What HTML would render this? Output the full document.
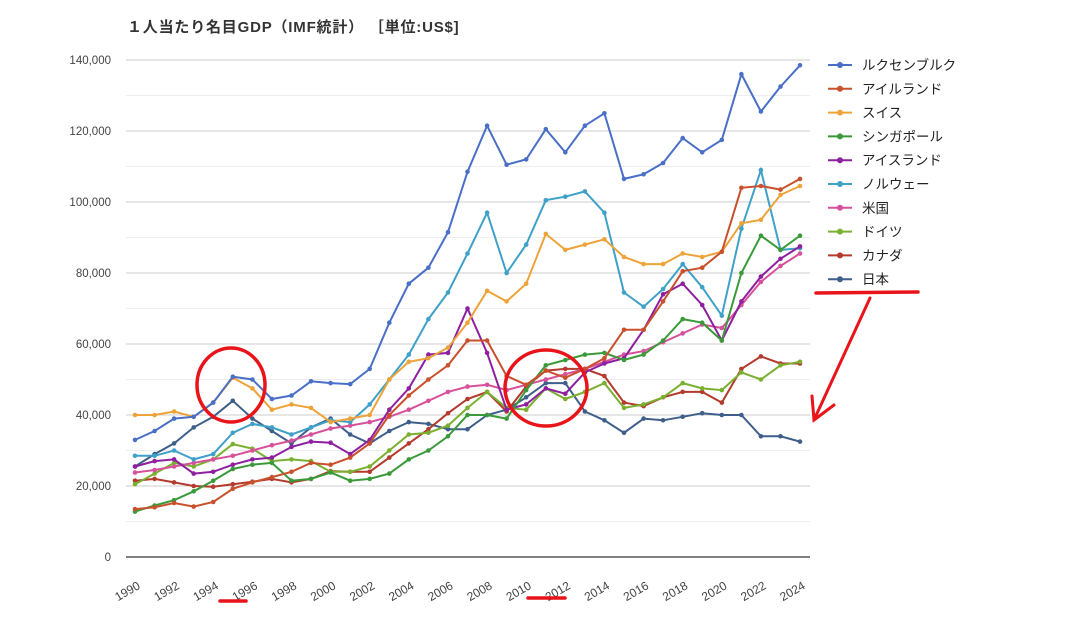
<!DOCTYPE html>
<html><head><meta charset="utf-8"><style>
body{margin:0;background:#fff;width:1079px;height:624px;overflow:hidden}
svg{font-family:"Liberation Sans","Noto Sans CJK JP",sans-serif}
</style></head><body>
<svg id="s" width="1079" height="624" xmlns="http://www.w3.org/2000/svg"></svg>
<script>
const S=document.getElementById('s');let h='';
const X=y=>135+(y-1990)*19.56, Y=v=>557-v*3.55;
h+='<text x="127" y="32" font-size="15" font-weight="bold" fill="#333" letter-spacing="0.8">１人当たり名目GDP（IMF統計） ［単位:US$]</text>';
for(let v=0;v<=140;v+=10){const y=Y(v);h+=`<line x1="126" x2="810" y1="${y}" y2="${y}" stroke="${v==0?'#555':(v%20?'#eee':'#ccc')}" stroke-width="${v==0?1.5:1}"/>`;
if(v%20==0)h+=`<text x="111" y="${y+4}" font-size="11.5" fill="#444" text-anchor="end">${v==0?'0':v+',000'}</text>`;}
for(let yr=1990;yr<=2024;yr+=2)h+=`<text transform="translate(${X(yr)+6},${588}) rotate(-30)" font-size="12" fill="#444" text-anchor="end">${yr}</text>`;
const D=[
["ルクセンブルク","#4a6fc6",[33,35.5,39,39.5,43.5,50.8,50,44.5,45.5,49.5,49,48.7,53,66,77,81.5,91.5,108.5,121.5,110.5,112,120.5,114,121.5,125,106.5,107.8,111,118,114,117.5,136,125.5,132.5,138.5]],
["アイルランド","#c8502c",[13.5,14,15.2,14.2,15.5,19.2,21,22.5,24,26.5,26,28,32,40,45.5,50,54,61,61,51,48.5,52.5,50.5,53,56,64,64,72,80.5,81.5,86,104,104.5,103.5,106.5]],
["スイス","#eea33a",[40,40,41,39.5,43.5,50.5,47.5,41.5,43,42,38,39,40,50,55,56,59,66,75,72,77,91,86.5,88,89.5,84.5,82.5,82.5,85.5,84.5,86,94,95,102,104.5]],
["シンガポール","#3a9a3a",[12.8,14.5,16,18.5,21.5,24.8,26,26.5,21.5,22,23.8,21.5,22,23.5,27.5,30,34,40,40,39,47,54,55.5,57,57.5,55.5,57,61,67,66,61,80,90.5,86.5,90.5]],
["アイスランド","#8e1fa0",[25.5,27,27.5,23.5,24,26,27.5,28,31,32.5,32.2,29,33,41.5,47.5,57,57.5,70,57.5,41.5,43,47.5,46,52,54.5,56,64,74,77,71,61,72,79,84,87.5]],
["ノルウェー","#3fa1c8",[28.5,28.5,30,27.5,29,35,37.5,36.5,34.5,36.5,38.5,38,43,50,57,67,74.5,85.5,97,80,88,100.5,101.5,103,97,74.5,70.5,75.5,82.5,76,68,92.5,109,86.5,87]],
["米国","#d7509a",[23.8,24.5,25.5,26.5,27.5,28.5,30,31.5,32.8,34.5,36.2,37,38,39.5,41.5,44,46.5,48,48.5,47,48.5,50,51.5,53,55,57,58,60.5,63,65.5,64.5,71,77.5,82,85.5]],
["ドイツ","#7ab030",[20.5,23.5,26.5,25.5,27.5,31.8,30.5,27,27.5,27,24,24,25.5,30,34.5,35,37,42,46.5,42,41.5,47.5,44.5,46.5,49,42,43,45,49,47.5,47,52,50,54,55]],
["カナダ","#b33a2c",[21.5,22,21,20,19.8,20.5,21.2,22,21,22,24.2,24,24,28,32,36,40.5,44.5,46.5,41,48,52.5,53,53,51,43.5,42.5,45,46.5,46.5,43.5,53,56.5,54.5,54.5]],
["日本","#3e5f8a",[25.5,29,32,36.5,39.5,44,39,35.5,32,36.5,39,34.5,32,35.5,38,37.5,36,36,40,41.5,45,49,49,41,38.5,35,39,38.5,39.5,40.5,40,40,34,34,32.5]]];
D.slice().reverse().forEach(([n,c,d])=>{const p=d.map((v,i)=>X(1990+i).toFixed(1)+','+Y(v).toFixed(1));
h+=`<polyline points="${p.join(' ')}" fill="none" stroke="${c}" stroke-width="2"/>`;
p.forEach(q=>{const [a,b]=q.split(',');h+=`<circle cx="${a}" cy="${b}" r="2.3" fill="${c}"/>`});});
D.forEach(([n,c],i)=>{const y=65+i*23.8;h+=`<line x1="828" x2="852" y1="${y}" y2="${y}" stroke="${c}" stroke-width="2"/><circle cx="840" cy="${y}" r="3" fill="${c}"/><text x="862" y="${y+5}" font-size="13.5" fill="#222">${n}</text>`;});
const R='#e8141a';
h+=`<ellipse cx="231" cy="385" rx="34" ry="37" fill="none" stroke="${R}" stroke-width="3.5"/>`;
h+=`<ellipse cx="546" cy="388" rx="41" ry="38" fill="none" stroke="${R}" stroke-width="3.5"/>`;
h+=`<line x1="220" x2="246" y1="601" y2="601" stroke="${R}" stroke-width="3.5" stroke-linecap="round"/>`;
h+=`<line x1="528" x2="565" y1="598" y2="598" stroke="${R}" stroke-width="3.5" stroke-linecap="round"/>`;
h+=`<line x1="816" x2="918" y1="293" y2="292" stroke="${R}" stroke-width="3.5" stroke-linecap="round"/>`;
h+=`<path d="M870 298 L814 420 M812 396 L814 420 L834 405" fill="none" stroke="${R}" stroke-width="3" stroke-linecap="round"/>`;
S.innerHTML=h;
</script>
</body></html>
